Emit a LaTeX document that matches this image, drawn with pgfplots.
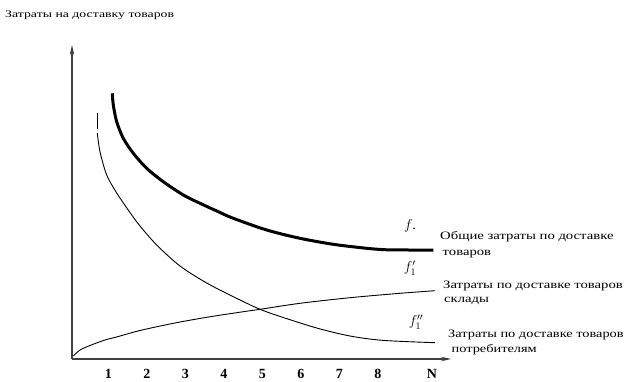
\documentclass[border=0pt]{standalone}
\usepackage{pgfplots}
\pgfplotsset{compat=1.18}
\usepackage{fontspec}
\setmainfont{Liberation Serif}
\newfontfamily\widea[FakeStretch=1.38]{Liberation Serif}
\newfontfamily\wideb[FakeStretch=1.3]{Liberation Serif}
\newfontfamily\widec[FakeStretch=1.27]{Liberation Serif}
\usetikzlibrary{arrows.meta}
\begin{document}
\begin{tikzpicture}[x=1pt,y=1pt]
\path[use as bounding box] (0,0) rectangle (629,381);
\begin{axis}[
  at={(72pt,22pt)}, anchor=south west,
  x=38.5pt, y=1pt,
  xmin=0.052, xmax=9.9, ymin=0, ymax=314,
  axis lines=left,
  axis line style={black!75, line width=1.3pt},
  x axis line style={-{Stealth[length=10pt,width=4.5pt]}},
  y axis line style={-{Stealth[length=10pt,width=4.5pt]}},
  xtick={1,2,3,4,5,6,7,8,9.4},
  xticklabels={1,2,3,4,5,6,7,8,N},
  xticklabel style={font=\fontsize{14}{16}\selectfont\bfseries, yshift=-7pt},
  major tick length=0pt,
  ytick=\empty,
  clip=false,
]
% total costs f
\addplot[black, line width=3pt, smooth] coordinates {
(1.099,265.7) (1.125,254) (1.213,237.3) (1.384,220.7) (1.644,205.7) (1.992,190.7)
(2.423,177.3) (2.943,164) (3.377,155.7) (3.852,147.3) (4.242,140.7) (5.109,129)
(5.974,120.7) (6.839,114.7) (7.706,110.7) (8.226,109.2) (8.8,109) (9.436,109)
};
% f'' consumers (short top piece, then the curve)
\addplot[black, line width=0.9pt] coordinates {(0.709,245.7) (0.709,230)};
\addplot[black, line width=0.9pt, smooth] coordinates {
(0.709,226) (0.779,207.3) (0.953,184) (1.213,166) (1.558,146.5) (1.818,133)
(2.252,114) (2.857,93) (3.551,76) (4.242,62.3) (4.935,49.7) (5.540,41.5)
(6.408,31) (7.273,23) (8.138,18.6) (9.481,16.3)
};
% f' warehouses
\addplot[black, line width=0.9pt, smooth] coordinates {
(0.086,3) (0.26,9) (0.519,13.5) (0.909,19) (1.255,22.5) (1.818,28.5) (2.683,35.7)
(3.551,41.7) (4.416,46.8) (4.935,49.7) (5.974,55.7) (7.273,61.3) (8.571,65.7) (9.481,68.3)
};
\end{axis}
\node[anchor=west, font=\widea\fontsize{10}{12}\selectfont, inner sep=0pt] at (5,366) {Затраты на доставку товаров};
\node[font=\fontsize{14}{16}\selectfont] at (410,155) {$f$.};
\node[font=\fontsize{14}{16}\selectfont] at (410,113) {$f_1'$};
\node[font=\fontsize{14}{16}\selectfont] at (416,59) {$f_1''$};
\node[anchor=west, align=left, inner sep=0pt, font=\wideb\fontsize{11.3}{16}\selectfont] at (440,136) {Общие затраты по доставке\\\hspace*{2.5pt}товаров};
\node[anchor=west, align=left, inner sep=0pt, font=\wideb\fontsize{11.3}{14.3}\selectfont] at (443,88) {Затраты по доставке товаров\\\hspace*{1pt}склады};
\node[anchor=west, align=left, inner sep=0pt, font=\widec\fontsize{11.3}{15}\selectfont] at (448,38.5) {Затраты по доставке товаров\\\hspace*{3.5pt}потребителям};
\end{tikzpicture}
\end{document}
